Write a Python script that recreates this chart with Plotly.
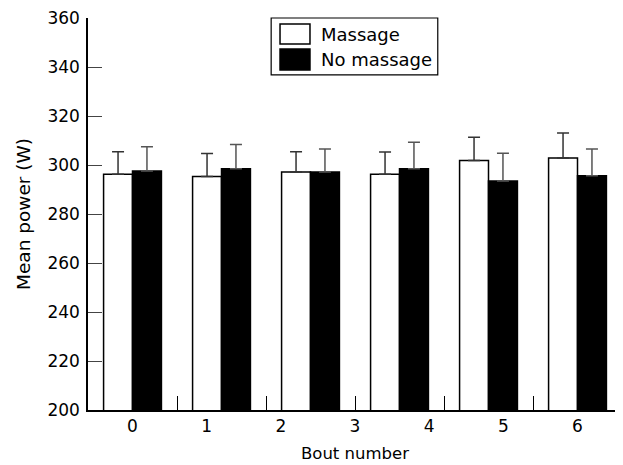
import plotly.graph_objects as go

bout_labels = ["0", "1", "2", "3", "4", "5", "6"]
y_ticks = [200, 220, 240, 260, 280, 300, 320, 340, 360]
massage = [296.2, 295.3, 297.1, 296.2, 301.8, 302.9]
massage_err = [9.2, 9.4, 8.3, 9.1, 9.5, 10.2]
no_massage = [297.6, 298.5, 297.1, 298.5, 293.5, 295.6]
no_massage_err = [9.9, 9.9, 9.4, 10.8, 11.3, 10.9]

n = len(massage)
xpos = list(range(n))
FONT = "DejaVu Sans"

fig = go.Figure()
fig.add_trace(go.Bar(
    x=xpos, y=massage, name="Massage",
    marker=dict(color="white", line=dict(color="black", width=1.5)),
    error_y=dict(type="data", symmetric=False, array=massage_err,
                 arrayminus=[0] * n, color="#333", thickness=1.5, width=6),
))
fig.add_trace(go.Bar(
    x=xpos, y=no_massage, name="No massage",
    marker=dict(color="black", line=dict(color="black", width=1.5)),
    error_y=dict(type="data", symmetric=False, array=no_massage_err,
                 arrayminus=[0] * n, color="#555", thickness=1.5, width=6),
))

label_pos = [i * (n - 1) / (len(bout_labels) - 1) for i in range(len(bout_labels))]
boundaries = [i + 0.5 for i in range(n - 1)]

fig.update_layout(
    width=623, height=465,
    margin=dict(l=80, r=9, t=10, b=63, autoexpand=False),
    paper_bgcolor="white", plot_bgcolor="white",
    barmode="group", bargap=0.35, bargroupgap=0,
    showlegend=False,
    font=dict(family=FONT, size=16, color="black"),
    xaxis=dict(
        range=[-0.5, n - 0.5], automargin=False,
        tickmode="array", tickvals=label_pos, ticktext=bout_labels,
        ticks="", showgrid=False, zeroline=False,
        showline=True, linecolor="black", linewidth=1.5,
        tickfont=dict(size=17, family=FONT),
        minor=dict(tickmode="array", tickvals=boundaries, ticks="inside",
                   ticklen=14, tickwidth=1.4, tickcolor="black", showgrid=False),
        title=dict(text="Bout number", font=dict(size=16.5, family=FONT), standoff=12),
    ),
    yaxis=dict(
        range=[200, 360.01], tickmode="array", tickvals=y_ticks, automargin=False,
        ticks="inside", ticklen=14, tickwidth=1.3, tickcolor="#444",
        ticklabelstandoff=3, ticklabeloverflow="allow",
        showgrid=False, zeroline=False,
        showline=True, linecolor="black", linewidth=1.5,
        tickfont=dict(size=17, family=FONT),
        title=dict(text="Mean power (W)", font=dict(size=18.5, family=FONT), standoff=12),
    ),
)

# legend box drawn in paper coordinates
fig.add_shape(type="rect", xref="paper", yref="paper",
              x0=0.343, x1=0.655, y0=0.855, y1=1.0,
              line=dict(color="black", width=1.2), fillcolor="white", layer="above")
fig.add_shape(type="rect", xref="paper", yref="paper",
              x0=0.3596, x1=0.4157, y0=0.9337, y1=0.9847,
              line=dict(color="black", width=1.5), fillcolor="white", layer="above")
fig.add_shape(type="rect", xref="paper", yref="paper",
              x0=0.3596, x1=0.4157, y0=0.8673, y1=0.9209,
              line=dict(color="black", width=1.5), fillcolor="black", layer="above")
fig.add_annotation(text="Massage", xref="paper", yref="paper", x=0.4326, y=0.958,
                   xanchor="left", yanchor="middle", showarrow=False,
                   font=dict(size=18, family=FONT))
fig.add_annotation(text="No massage", xref="paper", yref="paper", x=0.4326, y=0.894,
                   xanchor="left", yanchor="middle", showarrow=False,
                   font=dict(size=18, family=FONT))

fig.write_html("out.html")
